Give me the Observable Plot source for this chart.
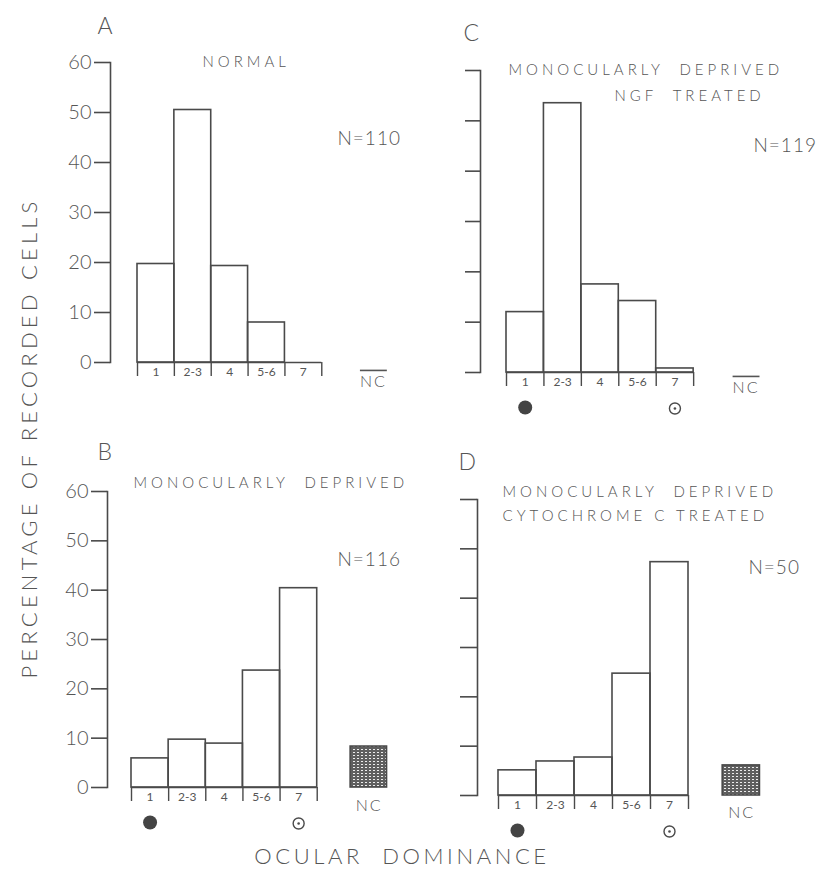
<!DOCTYPE html>
<html>
<head>
<meta charset="utf-8">
<script src="https://cdn.jsdelivr.net/npm/d3@7"></script>
<script src="https://cdn.jsdelivr.net/npm/@observablehq/plot@0.6"></script>
<style>
  html, body { margin: 0; padding: 0; background: #fff; }
  #root { position: relative; width: 822px; height: 875px; overflow: hidden; font-family: Lato, "DejaVu Sans", sans-serif; color: #555; }
  .panel { position: absolute; }
  .ylab { position: absolute; left: 28px; top: 438px; transform: translate(-50%, -50%) rotate(-90deg); white-space: nowrap; font-size: 22px; font-weight: 300; letter-spacing: 4.2px; color: #555; }
  .xlab { position: absolute; left: 402px; top: 855px; transform: translate(-50%, -50%); white-space: nowrap; font-size: 22px; font-weight: 300; letter-spacing: 3.6px; color: #555; }
</style>
</head>
<body>
<svg width="0" height="0" style="position:absolute">
  <defs>
    <pattern id="nchatch" width="4" height="3" patternUnits="userSpaceOnUse">
      <rect width="4" height="3" fill="#5f5f5f"></rect>
      <rect x="1" y="1" width="2" height="1" fill="#ececec"></rect>
    </pattern>
  </defs>
</svg>
<div id="root">
  <div class="ylab">PERCENTAGE OF RECORDED CELLS</div>
  <div class="xlab">OCULAR&nbsp;&nbsp;DOMINANCE</div>
</div>
<script>
// ---- data ----
const categories = ["1", "2-3", "4", "5-6", "7"];
const normalPct = [19.7, 50.5, 19.3, 8.0, 0];
const ngfTreatedPct = [12.0, 53.5, 17.5, 14.2, 0.8];
const deprivedPct = [5.9, 9.7, 8.9, 23.7, 40.4];
const cytochromeTreatedPct = [5.1, 6.9, 7.7, 24.7, 47.3];
const ncLabel = "NC";
const ncDeprivedPct = 8.3;
const ncCytochromePct = 6.1;
const yTicks = [0, 10, 20, 30, 40, 50, 60];
const panelLetters = ["A", "C", "B", "D"];
const panelTitles = [
  ["NORMAL"],
  ["MONOCULARLY  DEPRIVED", "NGF  TREATED"],
  ["MONOCULARLY  DEPRIVED"],
  ["MONOCULARLY  DEPRIVED", "CYTOCHROME C TREATED"]
];
const sampleSizes = [110, 119, 116, 50];

const INK = "#4a4a4a";
const TXT = "#555";

function makePanel(cfg) {
  const rows = categories.map((c, i) => ({cat: c, i, pct: cfg.values[i]}));
  const nIdx = categories.length;            // NC sits after the last category
  const marks = [
    Plot.frame({anchor: "left", stroke: INK, strokeWidth: 1.6}),
    Plot.axisY({ticks: yTicks, tickSize: cfg.tickSize, tickPadding: 3, strokeWidth: 1.6, stroke: INK,
      tickFormat: cfg.yLabels ? (d => String(d)) : (() => ""), fontSize: 20, label: null}),
    Plot.ruleY([0], {x1: 0, x2: nIdx, stroke: INK, strokeWidth: 1.6}),
    Plot.rect(rows, {x1: "i", x2: d => d.i + 1, y1: 0, y2: "pct", fill: "none", stroke: INK, strokeWidth: 1.6}),
    Plot.axisX({ticks: d3.range(0, nIdx + 1), tickSize: 14, tickFormat: () => "", stroke: INK, strokeWidth: 1.4, label: null}),
    Plot.axisX({ticks: categories.map((_, i) => i + 0.5), tickSize: 0, tickPadding: 5,
      tickFormat: v => categories[Math.floor(v)], fontSize: 12, label: null}),
    Plot.text([ncLabel], {x: nIdx + 1.4, frameAnchor: "bottom", lineAnchor: "middle", dy: cfg.ncDy, fontSize: 16, fill: TXT})
  ];
  if (cfg.nc != null) {
    marks.push(Plot.rect([cfg.nc], {x1: nIdx + 0.9, x2: nIdx + 1.88, y1: 0, y2: d => d,
      fill: "url(#nchatch)", stroke: INK, strokeWidth: 1.6}));
  }
  if (cfg.markers) {
    const first = categories.indexOf("1") + 0.5;
    const last = categories.indexOf("7") + 0.5;
    marks.push(
      Plot.dot([first], {x: d => d, frameAnchor: "bottom", dy: 35, r: 7, fill: "#444", stroke: "none"}),
      Plot.dot([last], {x: d => d, frameAnchor: "bottom", dy: 36, r: 5.5, fill: "none", stroke: INK, strokeWidth: 1.4}),
      Plot.dot([last], {x: d => d, frameAnchor: "bottom", dy: 36, r: 1.3, fill: INK, stroke: "none"})
    );
  }
  marks.push(
    Plot.text([cfg.letter], {frameAnchor: "top-left", lineAnchor: "middle", textAnchor: "start", dx: cfg.letterPos[0], dy: cfg.letterPos[1], fontSize: 23, fill: TXT}),
    Plot.text(cfg.titles, {frameAnchor: "top-left", lineAnchor: "middle", textAnchor: "start", fontSize: 15, fill: TXT}),
    Plot.text(["N=" + cfg.n], {frameAnchor: "top-left", lineAnchor: "middle", textAnchor: "start", dx: cfg.nPos[0], dy: cfg.nPos[1], fontSize: 19, fill: TXT})
  );
  const svg = Plot.plot({
    width: 411,
    height: cfg.height,
    marginLeft: cfg.ml, marginRight: cfg.mr, marginTop: cfg.mt, marginBottom: cfg.mb,
    insetLeft: cfg.inset,
    x: {domain: [0, 7], axis: null},
    y: {domain: [0, 60], axis: null},
    style: {fontFamily: "Lato, 'DejaVu Sans', sans-serif", color: TXT, background: "transparent", overflow: "visible"},
    marks
  });
  const s = d3.select(svg);
  const yTickStrings = yTicks.map(String);
  s.selectAll("text").each(function() {
    const t = this.textContent;
    const el = d3.select(this);
    const idx = cfg.titles.indexOf(t);
    if (idx >= 0) {
      el.style("letter-spacing", "4px").style("font-weight", "300");
      const line = cfg.titleLines[idx];
      el.attr("transform", `translate(${cfg.ml + line[0]},${cfg.mt + line[1]})`);
    }
    if (t === ncLabel) {
      el.style("font-weight", "300").style("letter-spacing", "2px");
      if (cfg.overline) el.style("text-decoration", "overline");
    }
    if (t.startsWith("N=")) el.style("letter-spacing", "1px").style("font-weight", "300");
    if (t === cfg.letter) el.style("font-weight", "300");
    if (yTickStrings.includes(t)) el.style("font-weight", "300");
  });
  const div = document.createElement("div");
  div.className = "panel";
  div.style.left = cfg.left + "px";
  div.style.top = cfg.top + "px";
  div.appendChild(svg);
  document.getElementById("root").appendChild(div);
}

makePanel({letter: panelLetters[0], titles: panelTitles[0], n: sampleSizes[0], values: normalPct, nc: null,
  left: 0, top: 0, height: 437, ml: 110, mr: 16, mt: 62, mb: 75, inset: 27, tickSize: 16, yLabels: true,
  markers: false, overline: true, ncDy: 19,
  letterPos: [-13, -36], titleLines: [[92, 0]], nPos: [227, 76]});

makePanel({letter: panelLetters[1], titles: panelTitles[1], n: sampleSizes[1], values: ngfTreatedPct, nc: null,
  left: 411, top: 0, height: 437, ml: 69, mr: 54, mt: 70, mb: 65, inset: 26, tickSize: 15, yLabels: false,
  markers: true, overline: true, ncDy: 15,
  letterPos: [-17, -37], titleLines: [[28, 0], [134, 26]], nPos: [273, 75]});

makePanel({letter: panelLetters[2], titles: panelTitles[2], n: sampleSizes[2], values: deprivedPct, nc: ncDeprivedPct,
  left: 0, top: 430, height: 445, ml: 107, mr: 20, mt: 61, mb: 88, inset: 24, tickSize: 16, yLabels: true,
  markers: true, overline: false, ncDy: 18,
  letterPos: [-10, -39], titleLines: [[26, -8]], nPos: [230, 68]});

makePanel({letter: panelLetters[3], titles: panelTitles[3], n: sampleSizes[3], values: cytochromeTreatedPct, nc: ncCytochromePct,
  left: 411, top: 430, height: 445, ml: 66, mr: 58, mt: 69, mb: 80, inset: 21, tickSize: 17, yLabels: false,
  markers: true, overline: false, ncDy: 17,
  letterPos: [-19, -37], titleLines: [[25, -7], [25, 17]], nPos: [271, 68]});
</script>
</body>
</html>
